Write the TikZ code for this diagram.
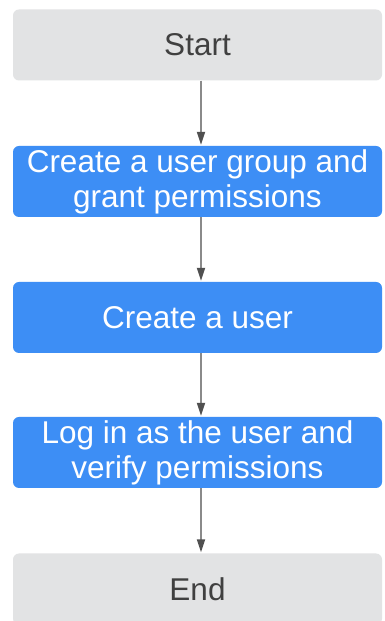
\documentclass[tikz,border=0pt]{standalone}
\usepackage{fontspec}
\setmainfont{Liberation Sans}
\usetikzlibrary{arrows.meta}
\definecolor{boxgray}{HTML}{E2E3E4}
\definecolor{boxblue}{HTML}{3D8EF5}
\definecolor{txtgray}{HTML}{404040}
\definecolor{linegray}{HTML}{8A8A8A}
\definecolor{tipgray}{HTML}{505050}
\tikzset{
  base/.style={rectangle, rounded corners=6pt, minimum width=369pt, minimum height=71pt, inner sep=0pt, align=center,
    font=\fontsize{31.5}{35}\selectfont},
  greybox/.style={base, fill=boxgray, text=txtgray},
  bluebox/.style={base, fill=boxblue, text=white},
  conn/.style={draw=linegray, line width=1.8pt, -{Triangle[length=13pt,width=8pt,color=tipgray]}, shorten >=1pt}
}
\begin{document}
\begin{tikzpicture}[x=1pt,y=1pt]
\useasboundingbox (0,0) rectangle (385,621);
\fill[white] (0,0) rectangle (385,621);
\node[greybox] (start) at (197.5,576) {Start};
\node[bluebox] (g) at (197.5,439.5) {Create a user group and\\grant permissions};
\node[bluebox] (u) at (197.5,303.5) {Create a user};
\node[bluebox] (l) at (197.5,168.5) {Log in as the user and\\verify permissions};
\node[greybox] (end) at (197.5,32) {End};
\draw[conn] (start.south -| 201,0) -- (g.north -| 201,0);
\draw[conn] (g.south -| 201,0) -- (u.north -| 201,0);
\draw[conn] (u.south -| 201,0) -- (l.north -| 201,0);
\draw[conn] (l.south -| 201,0) -- (end.north -| 201,0);
\end{tikzpicture}
\end{document}
